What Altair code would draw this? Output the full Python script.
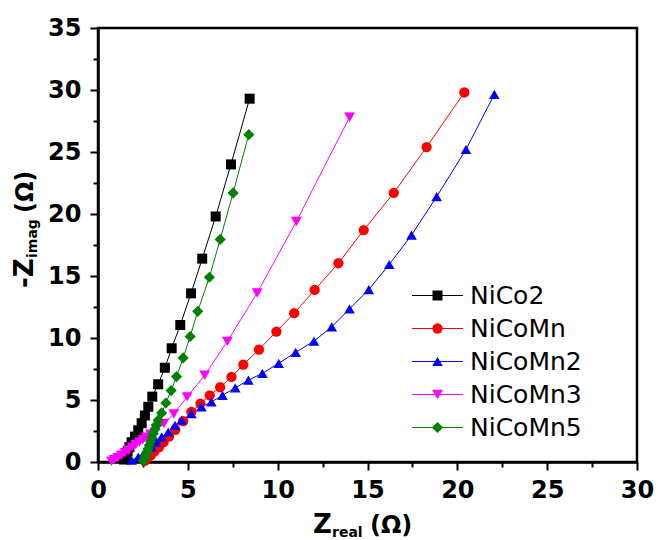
import altair as alt
import pandas as pd

# ---------------- data ----------------
series_names = ["NiCo2", "NiCoMn", "NiCoMn2", "NiCoMn3", "NiCoMn5"]
series_colors = ["#000000", "#ff0000", "#0000ff", "#ff00ff", "#008000"]
series_shapes = ["square", "circle", "triangle-up", "triangle-down", "diamond"]
marker_sizes = [100, 125, 145, 145, 150]

nico2_x = [1.45, 1.55, 1.65, 1.75, 1.87, 2.06, 2.24, 2.43, 2.61, 2.80, 3.02, 3.35,
           3.72, 4.10, 4.58, 5.18, 5.80, 6.55, 7.40, 8.44]
nico2_y = [0.20, 0.50, 0.85, 1.20, 1.60, 2.05, 2.56, 3.13, 3.75, 4.45, 5.27, 6.27,
           7.60, 9.17, 11.05, 13.60, 16.40, 19.80, 24.00, 29.30]

nicomn_x = [2.60, 2.75, 2.95, 3.15, 3.40, 3.65, 3.95, 4.30, 4.74, 5.20, 5.70, 6.22,
            6.80, 7.43, 8.09, 8.96, 9.93, 10.92, 12.06, 13.38, 14.79, 16.46, 18.29, 20.39]
nicomn_y = [0.10, 0.30, 0.55, 0.85, 1.20, 1.60, 2.05, 2.60, 3.30, 4.04, 4.71, 5.38,
            6.03, 6.86, 7.86, 9.07, 10.52, 12.00, 13.88, 16.03, 18.70, 21.70, 25.40, 29.80]

nicomn2_x = [1.87, 2.24, 2.60, 2.98, 3.26, 3.54, 3.91, 4.28, 4.65, 5.20, 5.76, 6.31,
             6.93, 7.64, 8.37, 9.15, 10.06, 11.00, 12.02, 13.01, 14.00, 15.07, 16.21,
             17.45, 18.85, 20.48, 22.06]
nicomn2_y = [0.14, 0.40, 0.81, 1.21, 1.61, 2.02, 2.42, 2.96, 3.37, 3.90, 4.44, 4.84,
             5.38, 5.98, 6.60, 7.15, 7.96, 8.84, 9.75, 10.90, 12.35, 13.90, 15.93,
             18.30, 21.40, 25.20, 29.65]

nicomn3_x = [0.75, 0.90, 1.10, 1.30, 1.50, 1.70, 1.90, 2.10, 2.30, 2.50, 2.68, 2.92,
             3.24, 3.66, 4.22, 4.96, 5.94, 7.20, 8.86, 11.04, 14.00]
nicomn3_y = [0.05, 0.18, 0.35, 0.55, 0.75, 0.95, 1.20, 1.40, 1.60, 1.80, 2.00, 2.25,
             2.60, 3.10, 3.88, 5.25, 7.00, 9.73, 13.63, 19.40, 27.80]

nicomn5_x = [2.52, 2.57, 2.62, 2.68, 2.74, 2.80, 2.86, 2.93, 3.00, 3.08, 3.17, 3.26,
             3.35, 3.54, 3.78, 4.07, 4.37, 4.74, 5.13, 5.55, 6.20, 6.80, 7.52, 8.39]
nicomn5_y = [0.08, 0.22, 0.40, 0.60, 0.82, 1.08, 1.35, 1.65, 1.95, 2.30, 2.65, 3.00,
             3.37, 3.96, 4.76, 5.76, 6.89, 8.39, 10.12, 12.15, 14.90, 17.95, 21.70, 26.40]

x_ticks = [0, 5, 10, 15, 20, 25, 30]
x_minor = [2.5, 7.5, 12.5, 17.5, 22.5, 27.5]
y_ticks = [0, 5, 10, 15, 20, 25, 30, 35]
y_minor = [2.5, 7.5, 12.5, 17.5, 22.5, 27.5, 32.5]

rows = []
for name, xs, ys in zip(series_names,
                        [nico2_x, nicomn_x, nicomn2_x, nicomn3_x, nicomn5_x],
                        [nico2_y, nicomn_y, nicomn2_y, nicomn3_y, nicomn5_y]):
    for a, b in zip(xs, ys):
        rows.append({"series": name, "zr": a, "zi": b})
df = pd.DataFrame(rows)

# marker-legend keys (distinct from the line-legend keys so the two
# legends stay separate and can be stacked on top of each other)
marker_keys = ["m_" + n for n in series_names]

# ---------------- styling ----------------
FONT = "DejaVu Sans"
W, H = 539, 434

xscale = alt.Scale(domain=[0, 30], nice=False, zero=False)
yscale = alt.Scale(domain=[0, 35], nice=False, zero=False)

common_axis = dict(title=None, grid=False, tickColor="black", tickWidth=2,
                   domainColor="black", domainWidth=2.5)

major_x = alt.Axis(values=x_ticks, orient="bottom", format="d", labelFont=FONT,
                   labelFontSize=24, labelFontWeight="bold", labelColor="black",
                   tickSize=8, labelPadding=8, labelFlush=False, labelOverlap=False,
                   **common_axis)
major_y = alt.Axis(values=y_ticks, orient="left", format="d", labelFont=FONT,
                   labelFontSize=24, labelFontWeight="bold", labelColor="black",
                   tickSize=8, labelPadding=9, labelFlush=False, labelOverlap=False,
                   **common_axis)
minor_x = alt.Axis(values=x_minor, orient="bottom", labels=False, tickSize=5,
                   domain=False, title=None, grid=False, tickColor="black", tickWidth=2)
minor_y = alt.Axis(values=y_minor, orient="left", labels=False, tickSize=5,
                   domain=False, title=None, grid=False, tickColor="black", tickWidth=2)

legend_common = dict(title=None, orient="none", clipHeight=33, rowPadding=0,
                     padding=0, labelFont=FONT, labelFontSize=25, labelColor="black",
                     legendY=251)

legend_lines = alt.Legend(legendX=313.5, symbolType="stroke", symbolSize=2601,
                          symbolStrokeWidth=1, labelOffset=6.5, **legend_common)
legend_marks = dict(legendX=327, symbolSize=125, labelExpr="''", labelOpacity=0,
                    symbolOpacity=1, symbolStrokeWidth=0, **legend_common)

lines = alt.Chart(df).mark_line(strokeWidth=1).encode(
    x=alt.X("zr:Q", scale=xscale, axis=major_x),
    y=alt.Y("zi:Q", scale=yscale, axis=major_y),
    stroke=alt.Stroke("series:N",
                      scale=alt.Scale(domain=series_names, range=series_colors),
                      legend=legend_lines),
)

points = alt.Chart(df).transform_calculate(
    sample="'m_' + datum.series"
).mark_point(filled=True, opacity=1).encode(
    x=alt.X("zr:Q", scale=xscale, axis=minor_x),
    y=alt.Y("zi:Q", scale=yscale, axis=minor_y),
    color=alt.Color("sample:N",
                    scale=alt.Scale(domain=marker_keys, range=series_colors),
                    legend=alt.Legend(**legend_marks)),
    shape=alt.Shape("sample:N",
                    scale=alt.Scale(domain=marker_keys, range=series_shapes),
                    legend=alt.Legend(**legend_marks)),
    size=alt.Size("sample:N",
                  scale=alt.Scale(domain=marker_keys, range=marker_sizes),
                  legend=None),
)


def label(text, x, y, size, angle=0):
    return alt.Chart(pd.DataFrame({"t": [text]})).mark_text(
        font=FONT, fontSize=size, fontWeight="bold", align="left",
        baseline="alphabetic", angle=angle, color="black"
    ).encode(text="t:N", x=alt.value(x), y=alt.value(y))


x_title = [label("Z", 215, 504.5, 26), label("real", 234, 509, 14),
           label("(Ω)", 272, 504.5, 24)]
y_title = [label("-Z", -65, 260, 26, 270), label("imag", -61.5, 230, 14, 270),
           label("(Ω)", -65, 185, 24, 270)]

chart = alt.layer(lines, points, *x_title, *y_title).resolve_axis(
    x="independent", y="independent"
).properties(
    width=W, height=H,
    autosize=alt.AutoSizeParams(type="none"),
    padding={"left": 98, "top": 28, "right": 21, "bottom": 78},
    background="white",
).configure_view(stroke="black", strokeWidth=2.5)

chart.save("out.html", embed_options={"renderer": "svg", "actions": False})
